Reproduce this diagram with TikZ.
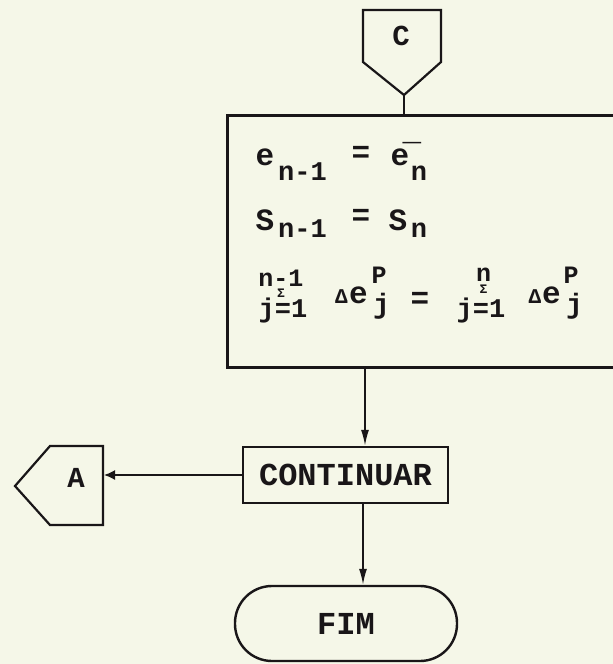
\documentclass[tikz,border=0pt]{standalone}
\usepackage{fontspec}
\usetikzlibrary{arrows.meta}
\newfontfamily\tw{Liberation Mono}
\newcommand\fmid{\tw\bfseries\fontsize{25}{25}\selectfont}
\newcommand\fsml{\tw\bfseries\fontsize{27}{27}\selectfont}
\newcommand\fsig{\tw\bfseries\fontsize{13}{13}\selectfont}
\newcommand\sumstack[6]{\makebox[46pt]{\makebox[0pt]{\fmid #1}\makebox[0pt]{\raisebox{#2}{\fsig Σ}}\makebox[0pt]{\hspace*{#4}\raisebox{#3}{\fsml j=1}}}}
\definecolor{paper}{RGB}{245,247,232}
\definecolor{ink}{RGB}{25,22,24}
\begin{document}
\begin{tikzpicture}[x=1pt,y=-1pt,
  ln/.style={draw=ink,line width=2.6pt},
  conn/.style={draw=ink,line width=2.2pt},
  arr/.style={draw=ink,line width=1.6pt,-{Latex[length=16pt,width=8pt]}},
  lbl/.style={inner sep=0pt,text=ink,font=\tw\bfseries\fontsize{32}{32}\selectfont},
  big/.style={inner sep=0pt,anchor=base,text=ink,font=\tw\bfseries\fontsize{31}{31}\selectfont},
  sml/.style={inner sep=0pt,anchor=base,text=ink,font=\fsml},
  mid/.style={inner sep=0pt,anchor=base,text=ink,font=\fmid},
  stk/.style={inner sep=0pt,anchor=base,text=ink},
  eqs/.style={inner sep=0pt,anchor=center,text=ink,font=\tw\bfseries\fontsize{31}{31}\selectfont},
  dlt/.style={inner sep=0pt,anchor=base,text=ink,font=\tw\bfseries\fontsize{21}{21}\selectfont}]
\fill[paper] (0,0) rectangle (613,664);
\useasboundingbox (0,0) rectangle (613,664);
\clip (0,0) rectangle (613,664);
% connector C
\draw[conn] (363,10) -- (441,10) -- (441,62) -- (404,95) -- (363,62) -- cycle;
\node[lbl,font=\tw\bfseries\fontsize{29}{29}\selectfont] (ctext) at (401,36) {C};
\coordinate (Ctip) at (404,95);
% process box (right side beyond the picture)
\node[ln,anchor=north west,minimum width=430pt,minimum height=252pt,inner sep=0pt] (box) at (226,114) {};
\draw[conn] (Ctip) -- (box.north -| Ctip);
% line 1
\node[big] (e1) at (265,165) {e};
\node[sml] (e1s) at (302.5,180) {n-1};
\node[eqs] (eq1) at (361,154.5) {=};
\node[big] (e2) at (400,165) {e};
\node[eqs] (bar) at (412,142) {\_};
\node[sml] (e2s) at (419,180) {n};
% line 2
\node[big] (s1) at (265,230) {S};
\node[sml] (s1s) at (302.5,237) {n-1};
\node[eqs] (eq2) at (361,217.5) {=};
\node[big] (s2) at (398,230) {S};
\node[sml] (s2s) at (419,237) {n};
% line 3
\node[stk] (sum1) at (281,286.5) {\sumstack{n-1}{-10.5pt}{-30.5pt}{4pt}{}{}};
\node[dlt] (d1) at (341.5,303) {Δ};
\node[big] (de1) at (358.5,303) {e};
\node[mid] (p1) at (379,283) {P};
\node[eqs,font=\tw\bfseries\fontsize{28}{28}\selectfont] (j1) at (381.5,306) {j};
\node[eqs] (eq3) at (420,300.5) {=};
\node[stk] (sum2) at (483.5,281) {\sumstack{n}{-12pt}{-36pt}{-5pt}{}{}};
\node[dlt] (d2) at (535,303) {Δ};
\node[big] (de2) at (551.5,303) {e};
\node[mid] (p2) at (571,283) {P};
\node[eqs,font=\tw\bfseries\fontsize{28}{28}\selectfont] (j2) at (574.5,306) {j};
% CONTINUAR
\node[ln,line width=2.4pt,minimum width=205pt,minimum height=56pt,inner sep=0pt,lbl] (cont) at (345.5,475) {CONTINUAR};
\coordinate (ax) at (365,0);
\draw[arr] (box.south -| ax) -- (cont.north -| ax);
% connector A
\draw[conn] (103,446) -- (50,446) -- (15,486) -- (50,525) -- (103,525) -- cycle;
\node[lbl,font=\tw\bfseries\fontsize{29}{29}\selectfont] (atext) at (76,478) {A};
\coordinate (Aright) at (104,477);
\draw[arr,-{Latex[length=11pt,width=10pt]}] (cont.west) -- (cont.west -| Aright);
% FIM
\node[draw=ink,line width=2.4pt,rounded corners=37pt,minimum width=222pt,minimum height=75pt,inner sep=0pt,lbl] (fim) at (346,623.5) {FIM};
\coordinate (bx) at (363,0);
\draw[arr] (cont.south -| bx) -- (fim.north -| bx);
\end{tikzpicture}
\end{document}
